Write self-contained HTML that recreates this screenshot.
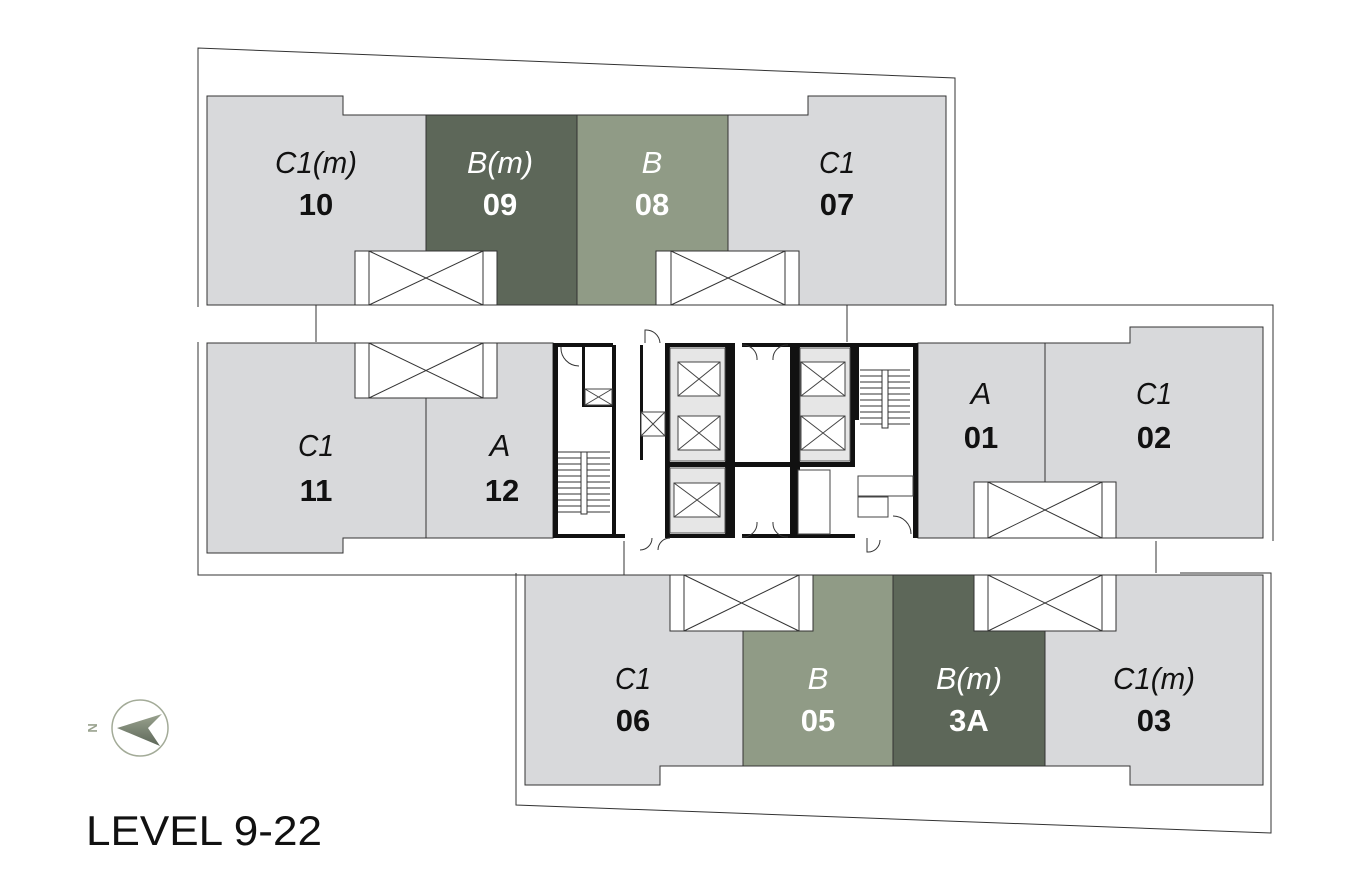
<!DOCTYPE html>
<html><head><meta charset="utf-8"><style>
html,body{margin:0;padding:0;background:#fff;}
svg{display:block;}
.l{font-family:"Liberation Sans",sans-serif;font-style:italic;font-size:31px;text-anchor:middle;}
.n{font-family:"Liberation Sans",sans-serif;font-weight:bold;font-size:31px;text-anchor:middle;}
</style></head><body>
<svg width="1355" height="891" viewBox="0 0 1355 891" xmlns="http://www.w3.org/2000/svg">
<g fill="none" stroke="#333" stroke-width="1">
<polyline points="198,307 198,48 955,78 955,305"/>
<polyline points="198,342 198,575 624,575 624,541"/>
<polyline points="955,305 1273,305 1273,541"/>
<polyline points="516,573 516,805 1271,833 1271,573 1180,573"/>
<line x1="316" y1="305" x2="316" y2="342"/><line x1="847" y1="305" x2="847" y2="342"/>
<line x1="1156" y1="541" x2="1156" y2="573"/>
</g>
<g stroke="#333" stroke-width="1">
<polygon points="207,96 343,96 343,115 426,115 426,305 207,305" fill="#d8d9db"/>
<rect x="426" y="115" width="151" height="190" fill="#5d6759"/>
<rect x="577" y="115" width="151" height="190" fill="#909b86"/>
<polygon points="728,115 808,115 808,96 946,96 946,305 728,305" fill="#d8d9db"/>
<polygon points="207,343 426,343 426,538 343,538 343,553 207,553" fill="#d8d9db"/>
<rect x="426" y="343" width="127" height="195" fill="#d8d9db"/>
<rect x="918" y="343" width="127" height="195" fill="#d8d9db"/>
<polygon points="1045,343 1130,343 1130,327 1263,327 1263,538 1045,538" fill="#d8d9db"/>
<polygon points="525,575 743,575 743,766 660,766 660,785 525,785" fill="#d8d9db"/>
<rect x="743" y="575" width="150" height="191" fill="#909b86"/>
<rect x="893" y="575" width="152" height="191" fill="#5d6759"/>
<polygon points="1045,575 1263,575 1263,785 1130,785 1130,766 1045,766" fill="#d8d9db"/>
</g>
<g stroke="#333" stroke-width="1" fill="#fff">
<rect x="355" y="251" width="142" height="54"/><rect x="369" y="251" width="114" height="54"/>
<path d="M369,251 L483,305 M483,251 L369,305"/>
<rect x="656" y="251" width="143" height="54"/><rect x="671" y="251" width="114" height="54"/>
<path d="M671,251 L785,305 M785,251 L671,305"/>
<rect x="355" y="343" width="142" height="55"/><rect x="369" y="343" width="114" height="55"/>
<path d="M369,343 L483,398 M483,343 L369,398"/>
<rect x="974" y="482" width="142" height="56"/><rect x="988" y="482" width="114" height="56"/>
<path d="M988,482 L1102,538 M1102,482 L988,538"/>
<rect x="670" y="575" width="143" height="56"/><rect x="684" y="575" width="115" height="56"/>
<path d="M684,575 L799,631 M799,575 L684,631"/>
<rect x="974" y="575" width="142" height="56"/><rect x="988" y="575" width="114" height="56"/>
<path d="M988,575 L1102,631 M1102,575 L988,631"/>
</g>
<rect x="553" y="343" width="365" height="195" fill="#fff"/>
<g fill="#111">
<rect x="553" y="343" width="5" height="195"/>
<rect x="913" y="343" width="5" height="195"/>
<rect x="553" y="343" width="60" height="4"/>
<rect x="553" y="534" width="72" height="4"/>
<rect x="665" y="343" width="65" height="4"/><rect x="742" y="343" width="48" height="4"/>
<rect x="795" y="343" width="120" height="4"/>
<rect x="665" y="534" width="65" height="4"/><rect x="742" y="534" width="48" height="4"/>
<rect x="795" y="534" width="60" height="4"/>
<rect x="665" y="343" width="5" height="195"/><rect x="725" y="343" width="5" height="195"/>
<rect x="730" y="343" width="5" height="195"/><rect x="790" y="343" width="5" height="195"/>
<rect x="795" y="343" width="5" height="195"/>
<rect x="850" y="343" width="5" height="120"/>
<rect x="665" y="462" width="190" height="5"/>
<rect x="612" y="345" width="4" height="190"/>
<rect x="582" y="347" width="3" height="60"/><rect x="582" y="404" width="32" height="3"/>
<rect x="640" y="345" width="3" height="115"/>
<rect x="855" y="345" width="4" height="75"/>
</g>
<g fill="#e6e6e6" stroke="#555" stroke-width="1">
<rect x="670" y="348" width="55" height="113"/><rect x="800" y="348" width="50" height="113"/>
<rect x="670" y="468" width="55" height="65"/>
</g>
<g fill="#fff" stroke="#444" stroke-width="1">
<rect x="678" y="362" width="42" height="34"/><rect x="678" y="416" width="42" height="34"/>
<rect x="674" y="483" width="46" height="34"/>
<rect x="801" y="362" width="44" height="34"/><rect x="801" y="416" width="44" height="34"/>
<path d="M678,362 L720,396 M720,362 L678,396 M678,416 L720,450 M720,416 L678,450 M674,483 L720,517 M720,483 L674,517 M801,362 L845,396 M845,362 L801,396 M801,416 L845,450 M845,416 L801,450"/>
<rect x="641" y="412" width="24" height="24"/><path d="M641,412 L665,436 M665,412 L641,436"/>
<rect x="585" y="389" width="27" height="16"/><path d="M585,389 L612,405 M612,389 L585,405"/>
<rect x="798" y="470" width="32" height="64"/>
<rect x="858" y="476" width="55" height="20"/><rect x="858" y="497" width="30" height="20"/>
</g>
<g stroke="#333" stroke-width="1" fill="none">
<path d="M558,452 H610 M558,458 H610 M558,464 H610 M558,470 H610 M558,476 H610 M558,482 H610 M558,488 H610 M558,494 H610 M558,500 H610 M558,506 H610 M558,512 H610"/>
<rect x="581" y="452" width="6" height="62" fill="#fff"/>
<path d="M860,370 H910 M860,376 H910 M860,382 H910 M860,388 H910 M860,394 H910 M860,400 H910 M860,406 H910 M860,412 H910 M860,418 H910 M860,424 H910"/>
<rect x="882" y="370" width="6" height="58" fill="#fff"/>
<path d="M742,345 A14,14 0 0 1 757,360 M788,345 A14,14 0 0 0 773,360 M742,537 A14,14 0 0 0 757,522 M788,537 A14,14 0 0 1 773,522"/>
<path d="M645,343 V330 A14,14 0 0 1 660,343 M652,538 A12,12 0 0 1 640,550 M670,538 A12,12 0 0 0 658,550 M867,538 V552 A12,12 0 0 0 880,540 M561,347 A18,18 0 0 0 579,366 M911,534 A18,18 0 0 0 893,516"/>
</g>
<g>
<text class="l" x="316" y="173" fill="#111" textLength="82" lengthAdjust="spacingAndGlyphs">C1(m)</text><text class="n" x="316" y="215" fill="#111">10</text>
<text class="l" x="500" y="173" fill="#fff" textLength="66" lengthAdjust="spacingAndGlyphs">B(m)</text><text class="n" x="500" y="215" fill="#fff">09</text>
<text class="l" x="652" y="173" fill="#fff">B</text><text class="n" x="652" y="215" fill="#fff">08</text>
<text class="l" x="837" y="173" fill="#111" textLength="36" lengthAdjust="spacingAndGlyphs">C1</text><text class="n" x="837" y="215" fill="#111">07</text>
<text class="l" x="316" y="456" fill="#111" textLength="36" lengthAdjust="spacingAndGlyphs">C1</text><text class="n" x="316" y="501" fill="#111">11</text>
<text class="l" x="500" y="456" fill="#111">A</text><text class="n" x="502" y="501" fill="#111">12</text>
<text class="l" x="981" y="404" fill="#111">A</text><text class="n" x="981" y="448" fill="#111">01</text>
<text class="l" x="1154" y="404" fill="#111" textLength="36" lengthAdjust="spacingAndGlyphs">C1</text><text class="n" x="1154" y="448" fill="#111">02</text>
<text class="l" x="633" y="689" fill="#111" textLength="36" lengthAdjust="spacingAndGlyphs">C1</text><text class="n" x="633" y="731" fill="#111">06</text>
<text class="l" x="818" y="689" fill="#fff">B</text><text class="n" x="818" y="731" fill="#fff">05</text>
<text class="l" x="969" y="689" fill="#fff" textLength="66" lengthAdjust="spacingAndGlyphs">B(m)</text><text class="n" x="969" y="731" fill="#fff">3A</text>
<text class="l" x="1154" y="689" fill="#111" textLength="82" lengthAdjust="spacingAndGlyphs">C1(m)</text><text class="n" x="1154" y="731" fill="#111">03</text>
</g>
<defs><linearGradient id="g" x1="0" y1="0" x2="0" y2="1"><stop offset="0" stop-color="#9aa38f"/><stop offset="1" stop-color="#5d6759"/></linearGradient></defs>
<circle cx="140" cy="728" r="28" fill="none" stroke="#a3ab98" stroke-width="1.5"/>
<polygon points="117,728 162,714 148,728 160,746" fill="url(#g)"/>
<text x="93" y="728" font-family="Liberation Sans,sans-serif" font-weight="bold" font-size="13" fill="#9aa38f" text-anchor="middle" transform="rotate(90 93 728) translate(0 5)">N</text>
<text x="86" y="845" font-family="Liberation Sans,sans-serif" font-size="42" fill="#111" textLength="236" lengthAdjust="spacingAndGlyphs">LEVEL 9-22</text>
</svg>
</body></html>
